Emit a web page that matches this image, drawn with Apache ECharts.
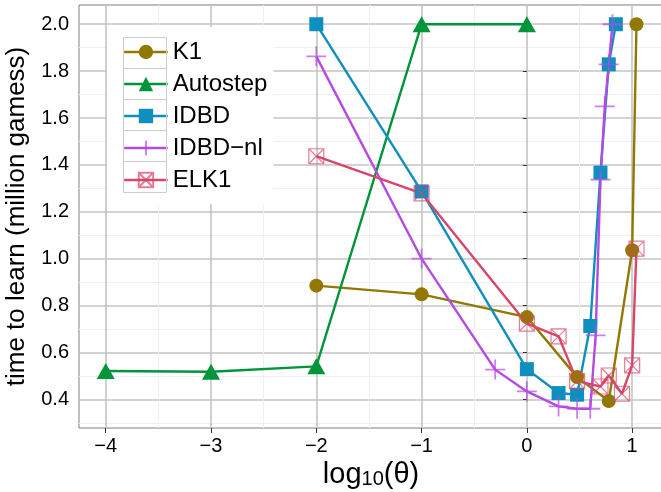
<!DOCTYPE html>
<html><head><meta charset="utf-8">
<script src="https://cdn.jsdelivr.net/npm/echarts@6/dist/echarts.min.js"></script>
<style>html,body{margin:0;padding:0;background:#fff}#c{width:661px;height:492px}</style>
</head><body><div id="c"></div>
<script>
// ---- data ----
const seriesNames = ['K1', 'Autostep', 'IDBD', 'IDBD\u2212nl', 'ELK1'];
const k1X   = [-2, -1, 0, 0.477, 0.778, 1.0, 1.041];
const k1Y   = [0.885, 0.848, 0.751, 0.495, 0.393, 1.036, 2.0];
const autoX = [-4, -3, -2, -1, 0];
const autoY = [0.521, 0.518, 0.541, 2.0, 2.0];
const idbdX = [-2, -1, 0, 0.301, 0.477, 0.602, 0.699, 0.778, 0.845];
const idbdY = [2.0, 1.287, 0.529, 0.427, 0.420, 0.713, 1.367, 1.829, 2.0];
const nlX   = [-2, -1, -0.301, 0, 0.301, 0.477, 0.602, 0.653, 0.699, 0.740, 0.778, 0.813];
const nlY   = [1.863, 1.0, 0.527, 0.434, 0.370, 0.360, 0.360, 0.673, 1.337, 1.65, 1.829, 2.0];
const elkX  = [-2, -1, 0, 0.301, 0.477, 0.699, 0.778, 0.903, 1.0, 1.041];
const elkY  = [1.437, 1.279, 0.723, 0.669, 0.478, 0.455, 0.502, 0.424, 0.545, 1.043];
const xTicks = [-4, -3, -2, -1, 0, 1];
const xMinor = [-3.5, -2.5, -1.5, -0.5, 0.5];
const yTicks = [0.4, 0.6, 0.8, 1.0, 1.2, 1.4, 1.6, 1.8, 2.0];
const yMinor = [0.3, 0.5, 0.7, 0.9, 1.1, 1.3, 1.5, 1.7, 1.9];

// ---- styling ----
const FONT = "'Liberation Sans', Arial, sans-serif";
const COL = { k1: '#927800', auto: '#00953b', idbd: '#0e8fc0', nl: '#b44be3', elk: '#d8466a' };
const XMIN = -4.254, XMAX = 1.293, YMIN = 0.278, YMAX = 2.082;
const MAJ = { color: '#c4c4c4', width: 1.6 };
const MIN = { color: '#f0f0f0', width: 1 };
const LW = 2.4;

function pairs(xs, ys) { return xs.map((x, i) => [x, ys[i]]); }
function fmtX(v) { return v < 0 ? '\u2212' + Math.abs(v) : String(v); }

const chart = echarts.init(document.getElementById('c'), null, { renderer: 'canvas' });

function lineSeries(name, xs, ys, color, symbol, size, itemStyle) {
  return {
    name, type: 'line', data: pairs(xs, ys), symbol, symbolSize: size,
    showSymbol: true, showAllSymbol: true, animation: false,
    xAxisIndex: 1, yAxisIndex: 1,
    lineStyle: { color, width: LW },
    itemStyle: itemStyle || { color, borderWidth: 0 },
    emphasis: { disabled: true }
  };
}

chart.setOption({
  animation: false,
  textStyle: { fontFamily: FONT },
  grid: { left: 79, top: 5, right: -2, bottom: 64, show: true, borderColor: '#7f7f7f', borderWidth: 1,
          backgroundColor: '#fff', containLabel: false, outerBoundsMode: 'none' },
  xAxis: [
    { type: 'value', min: XMIN, max: XMAX, position: 'bottom',
      axisLine: { show: false }, axisLabel: { show: false },
      axisTick: { show: false, customValues: xMinor },
      splitLine: { show: true, lineStyle: MIN } },
    { type: 'value', min: XMIN, max: XMAX, position: 'bottom',
      axisLine: { show: false },
      axisTick: { show: true, length: 5, customValues: xTicks, lineStyle: { color: '#333', width: 1 } },
      axisLabel: { customValues: xTicks, formatter: fmtX, fontSize: 20, color: '#000', margin: 8, fontFamily: FONT },
      splitLine: { show: true, lineStyle: MAJ },
      name: '{a|log}{b|10}{a|(\u03b8)}', nameLocation: 'middle', nameGap: 24,
      nameTextStyle: { fontFamily: FONT, color: '#000',
        rich: { a: { fontSize: 29, fontFamily: FONT, color: '#000', lineHeight: 34, verticalAlign: 'bottom' },
                b: { fontSize: 20, fontFamily: FONT, color: '#000', lineHeight: 12, verticalAlign: 'bottom' } } } }
  ],
  yAxis: [
    { type: 'value', min: YMIN, max: YMAX, position: 'left',
      axisLine: { show: false }, axisLabel: { show: false },
      axisTick: { show: false, customValues: yMinor },
      splitLine: { show: true, lineStyle: MIN } },
    { type: 'value', min: YMIN, max: YMAX, position: 'left',
      axisLine: { show: false },
      axisTick: { show: true, length: 4, customValues: yTicks, lineStyle: { color: '#333', width: 1 } },
      axisLabel: { customValues: yTicks, formatter: v => v.toFixed(1), fontSize: 20, color: '#000', margin: 10, fontFamily: FONT },
      splitLine: { show: true, lineStyle: MAJ },
      name: 'time to learn (million gamess)', nameLocation: 'middle', nameRotate: 90, nameGap: 46,
      nameTextStyle: { fontSize: 26, color: '#000', fontFamily: FONT } }
  ],
  legend: {
    orient: 'vertical', left: 107, top: 27, padding: [13, 6, 12, 16], backgroundColor: '#fff',
    itemWidth: 43.5, itemHeight: 18, itemGap: 8,
    lineStyle: { width: LW },
    textStyle: { fontSize: 24, color: '#000', fontFamily: FONT },
    data: seriesNames
  },
  graphic: seriesNames.map((n, i) => ({
    type: 'rect', z: 100,
    shape: { x: 123.5, y: 37.5 + 31 * i, width: 43, height: 31 },
    style: { fill: 'none', stroke: '#cccccc', lineWidth: 1 }
  })),
  series: [
    lineSeries(seriesNames[0], k1X, k1Y, COL.k1, 'circle', 14),
    lineSeries(seriesNames[1], autoX, autoY, COL.auto, 'triangle', [18, 16]),
    lineSeries(seriesNames[2], idbdX, idbdY, COL.idbd, 'rect', 14),
    lineSeries(seriesNames[3], nlX, nlY, COL.nl, 'path://M10,0L10,20M0,10L20,10', 20,
      { color: 'rgba(0,0,0,0)', borderColor: 'rgba(180,75,227,0.7)', borderWidth: 1.8 }),
    lineSeries(seriesNames[4], elkX, elkY, COL.elk, 'path://M0,0L20,0L20,20L0,20ZM0,0L20,20M20,0L0,20', 15,
      { color: 'rgba(0,0,0,0)', borderColor: 'rgba(216,70,106,0.7)', borderWidth: 1.2 })
  ]
});
</script></body></html>
